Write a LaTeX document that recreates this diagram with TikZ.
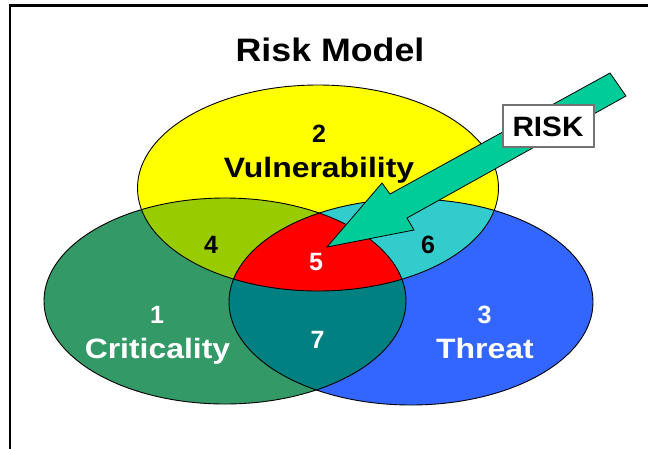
\documentclass[tikz,border=0pt]{standalone}
\usepackage{fontspec}
\setmainfont{Liberation Sans}
\definecolor{cY}{HTML}{FFFF00}
\definecolor{cG}{HTML}{339966}
\definecolor{cB}{HTML}{3366FF}
\definecolor{cYG}{HTML}{99CC00}
\definecolor{cYB}{HTML}{33CCCC}
\definecolor{cGB}{HTML}{008080}
\definecolor{cR}{HTML}{FF0000}
\definecolor{cArrow}{HTML}{00CC99}
\newcommand\ellYel{(318,188) ellipse [x radius=180.5, y radius=103]}
\newcommand\ellGrn{(225,301) ellipse [x radius=181, y radius=103]}
\newcommand\ellBlu{(411,302) ellipse [x radius=182, y radius=103]}
\newcommand\wide[1]{\scalebox{1.14}[1]{#1}}
\begin{document}
\begin{tikzpicture}[x=1pt,y=-1pt,
  outline/.style={draw=black, line width=0.9pt},
  lbl/.style={font=\fontsize{28}{30}\selectfont\bfseries, inner sep=0pt, anchor=base},
  num/.style={font=\fontsize{25}{27}\selectfont\bfseries, inner sep=0pt, anchor=base},
  frameline/.style={draw=black, line width=2.4pt}]
\useasboundingbox (0,0) rectangle (648,448);
\fill[white] (0,0) rectangle (648,448);
% frame
\coordinate (fbl) at (10,449);
\coordinate (ftl) at (10,5.5);
\coordinate (ftr) at (649,5.5);
\draw[frameline] (fbl) -- (ftl) -- (ftr);
% title
\node[font=\fontsize{32.5}{34}\selectfont\bfseries, inner sep=0pt, anchor=base] (title) at (330,61.7) {\scalebox{1.1}[1]{Risk Model}};
% fills
\fill[cG] \ellGrn;
\fill[cB] \ellBlu;
\fill[cY] \ellYel;
\begin{scope}
  \clip \ellYel;
  \fill[cYG] \ellGrn;
  \fill[cYB] \ellBlu;
\end{scope}
\begin{scope}
  \clip \ellGrn;
  \fill[cGB] \ellBlu;
\end{scope}
\begin{scope}
  \clip \ellYel;
  \clip \ellGrn;
  \fill[cR] \ellBlu;
\end{scope}
\draw[outline] \ellGrn;
\draw[outline] \ellBlu;
\draw[outline] \ellYel;
% labels
\node[num] (n2) at (319,142) {2};
\node[lbl] (vul) at (319,177) {\wide{Vulnerability}};
\node[num] (n4) at (211,253) {4};
\node[num] (n6) at (428,253) {6};
\node[num, text=white] (n1) at (157,323) {1};
\node[lbl, text=white] (crit) at (157.5,358) {\wide{Criticality}};
\node[num, text=white] (n3) at (484.5,323) {3};
\node[lbl, text=white] (thr) at (485,358) {\wide{Threat}};
\node[num, text=white] (n7) at (317.5,348) {7};
% arrow
\coordinate (a1) at (610,73);
\coordinate (a2) at (390,194);
\coordinate (a3) at (382,183);
\coordinate (tip) at (327,247);
\coordinate (a5) at (414,230);
\coordinate (a6) at (407,218);
\coordinate (a7) at (626,96);
\filldraw[fill=cArrow, draw=black, line width=0.8pt, line join=miter] (a1) -- (a2) -- (a3) -- (tip) -- (a5) -- (a6) -- (a7) -- cycle;
\node[num, text=white] (n5) at (316,270) {5};
% RISK box
\node[draw=black!55, line width=1.2pt, fill=white, minimum width=91pt, minimum height=42pt, inner sep=0pt] (riskbox) at (548.5,126) {};
\node[font=\fontsize{28}{30}\selectfont\bfseries, inner sep=0pt, anchor=base] (risk) at (548,136) {\scalebox{1.06}[1]{RISK}};
\end{tikzpicture}
\end{document}
